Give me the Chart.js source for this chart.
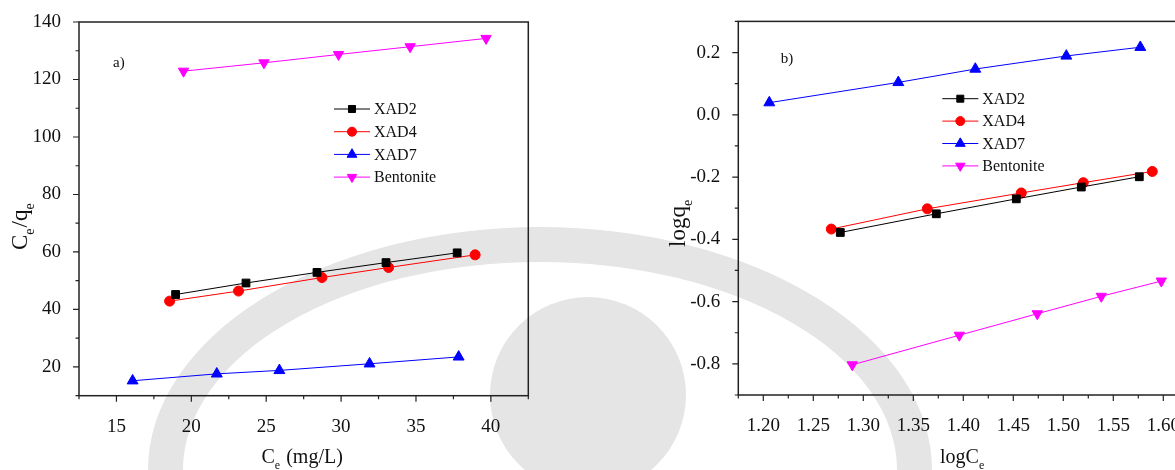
<!DOCTYPE html>
<html>
<head>
<meta charset="utf-8">
<title>Isotherm plots</title>
<script src="https://cdn.jsdelivr.net/npm/chart.js@4.4.1/dist/chart.umd.min.js"></script>
<style>
  html, body { margin: 0; padding: 0; background: #fff; overflow: hidden; }
  #wrap { position: relative; width: 1175px; height: 470px; overflow: hidden; }
  canvas { position: absolute; top: 0; }
  #bg { left: 0; }
  #chartA { left: 0; }
  #chartB { left: 640px; }
</style>
</head>
<body>
<div id="wrap">
  <canvas id="bg" width="1175" height="470"></canvas>
  <canvas id="chartA" width="560" height="470"></canvas>
  <canvas id="chartB" width="560" height="470"></canvas>
</div>
<script>
const seriesNames = ['XAD2', 'XAD4', 'XAD7', 'Bentonite'];

// a) Ce (mg/L) against Ce/qe
const ceXAD2 = [18.95, 23.65, 28.39, 33.0, 37.75];
const ceQeXAD2 = [45.2, 49.2, 52.9, 56.3, 59.7];
const ceXAD4 = [18.55, 23.15, 28.72, 33.17, 38.95];
const ceQeXAD4 = [42.9, 46.4, 51.1, 54.6, 59.0];
const ceXAD7 = [16.08, 21.7, 25.88, 31.9, 37.85];
const ceQeXAD7 = [15.2, 17.6, 18.8, 21.1, 23.5];
const ceBent = [19.48, 24.85, 29.83, 34.61, 39.68];
const ceQeBent = [122.9, 125.8, 128.7, 131.4, 134.3];

// b) logCe against logqe
const logCeXAD2 = [1.277, 1.373, 1.453, 1.518, 1.576];
const logQeXAD2 = [-0.378, -0.318, -0.270, -0.232, -0.199];
const logCeXAD4 = [1.268, 1.364, 1.458, 1.520, 1.589];
const logQeXAD4 = [-0.367, -0.302, -0.251, -0.218, -0.182];
const logCeXAD7 = [1.206, 1.335, 1.412, 1.503, 1.577];
const logQeXAD7 = [0.039, 0.104, 0.147, 0.189, 0.217];
const logCeBent = [1.289, 1.396, 1.474, 1.538, 1.598];
const logQeBent = [-0.803, -0.708, -0.639, -0.583, -0.534];

// tick labels
const ceTicks = [15, 20, 25, 30, 35, 40];
const ceQeTicks = [20, 40, 60, 80, 100, 120, 140];
const logCeTicks = [1.20, 1.25, 1.30, 1.35, 1.40, 1.45, 1.50, 1.55, 1.60];
const logQeTicks = [-0.8, -0.6, -0.4, -0.2, 0.0, 0.2];

const FONT = '"Liberation Serif", "Times New Roman", serif';
Chart.defaults.font.family = FONT;
Chart.defaults.color = '#111';

// faint round logo behind both panels
const bg = document.getElementById('bg').getContext('2d');
bg.fillStyle = '#e5e5e5';
bg.beginPath();
bg.ellipse(540, 470, 392, 243, 0, Math.PI, 2 * Math.PI);
bg.ellipse(540, 470, 357, 208, 0, 2 * Math.PI, Math.PI, true);
bg.closePath();
bg.fill();
bg.beginPath();
bg.arc(588, 395, 98, 0, 2 * Math.PI);
bg.fill();

const styles = [
  { color: '#000000', pointStyle: 'rect', rotation: 0, radius: 5.5 },
  { color: '#ff0000', pointStyle: 'circle', rotation: 0, radius: 5 },
  { color: '#0000ff', pointStyle: 'triangle', rotation: 0, radius: 6.3 },
  { color: '#ff00ff', pointStyle: 'triangle', rotation: 180, radius: 6 }
];

function makeSeries(i, xs, ys) {
  const s = styles[i];
  return {
    label: seriesNames[i],
    data: xs.map((v, k) => ({ x: v, y: ys[k] })),
    showLine: true,
    borderColor: s.color,
    backgroundColor: s.color,
    borderWidth: 1,
    pointStyle: s.pointStyle,
    pointRotation: s.rotation,
    pointRadius: s.radius,
    pointBorderWidth: 1,
    pointBorderColor: s.color,
    pointHoverRadius: s.radius
  };
}

// midpoints between major ticks, plus the two ends of the axis
function minorTicks(major, min, max) {
  const step = major[1] - major[0];
  const out = [];
  for (let v = major[0] - step / 2; v <= max + 1e-9; v += step) {
    if (v >= min - 1e-9) out.push(v);
  }
  return out;
}

function richText(ctx, parts, x, y, size) {
  let cx = x;
  parts.forEach(p => {
    const s = p.sub ? Math.round(size * 0.62) : size;
    ctx.font = s + 'px ' + FONT;
    ctx.fillText(p.t, cx, p.sub ? y + size * 0.32 : y);
    cx += ctx.measureText(p.t).width + (p.sub ? 1 : 0);
  });
}

const decorations = {
  id: 'decorations',
  beforeDatasetsDraw(chart, args, o) {
    const { ctx, chartArea: a, scales: { x, y } } = chart;
    ctx.save();
    ctx.strokeStyle = '#222';
    ctx.lineWidth = 1.5;
    ctx.strokeRect(a.left, a.top, a.right - a.left, a.bottom - a.top);
    ctx.lineWidth = 1.2;
    ctx.beginPath();
    o.xMajor.forEach(v => { const p = x.getPixelForValue(v); ctx.moveTo(p, a.bottom); ctx.lineTo(p, a.bottom + 6); });
    minorTicks(o.xMajor, x.min, x.max).forEach(v => { const p = x.getPixelForValue(v); ctx.moveTo(p, a.bottom); ctx.lineTo(p, a.bottom + 3.5); });
    o.yMajor.forEach(v => { const p = y.getPixelForValue(v); ctx.moveTo(a.left, p); ctx.lineTo(a.left - 6, p); });
    minorTicks(o.yMajor, y.min, y.max).forEach(v => { const p = y.getPixelForValue(v); ctx.moveTo(a.left, p); ctx.lineTo(a.left - 3.5, p); });
    ctx.stroke();
    ctx.restore();
  },
  afterDraw(chart, args, o) {
    const { ctx } = chart;
    ctx.save();
    ctx.fillStyle = '#111';
    ctx.textAlign = 'left';
    ctx.textBaseline = 'alphabetic';

    // x title
    richText(ctx, o.xTitle, o.xTitlePos[0], o.xTitlePos[1], 20);

    // y title, reading upwards
    ctx.save();
    ctx.translate(o.yTitlePos[0], o.yTitlePos[1]);
    ctx.rotate(-Math.PI / 2);
    richText(ctx, o.yTitle, 0, 0, 23);
    ctx.restore();

    // panel letter
    ctx.font = '15px ' + FONT;
    ctx.fillText(o.letter, o.letterPos[0], o.letterPos[1]);

    // legend
    const lg = o.legend;
    chart.data.datasets.forEach((ds, i) => {
      const ry = lg.y + i * lg.gap;
      ctx.strokeStyle = ds.borderColor;
      ctx.lineWidth = 1;
      ctx.beginPath();
      ctx.moveTo(lg.x, ry);
      ctx.lineTo(lg.x + 36, ry);
      ctx.stroke();
      ctx.fillStyle = ds.backgroundColor;
      Chart.helpers.drawPoint(ctx, {
        pointStyle: ds.pointStyle, rotation: ds.pointRotation,
        radius: ds.pointRadius * 0.9, borderWidth: 1
      }, lg.x + 18, ry);
      ctx.fillStyle = '#111';
      ctx.font = '16px ' + FONT;
      ctx.textBaseline = 'middle';
      ctx.fillText(ds.label, lg.x + 40, ry + 1);
      ctx.textBaseline = 'alphabetic';
    });
    ctx.restore();
  }
};

function makeChart(id, datasets, p) {
  const tickFont = { family: FONT, size: 19 };
  return new Chart(document.getElementById(id), {
    type: 'scatter',
    data: { datasets },
    plugins: [decorations],
    options: {
      responsive: false,
      animation: false,
      events: [],
      layout: { padding: p.padding },
      elements: { line: { tension: 0 } },
      plugins: {
        legend: { display: false },
        tooltip: { enabled: false },
        decorations: p.deco
      },
      scales: {
        x: {
          type: 'linear', min: p.xMin, max: p.xMax,
          grid: { display: false }, border: { display: false },
          afterBuildTicks: s => { s.ticks = p.xTicks.map(v => ({ value: v })); },
          afterFit: s => { s.height = p.xAxisH; },
          ticks: { font: tickFont, color: '#111', padding: 12, maxRotation: 0, autoSkip: false, callback: p.xFmt }
        },
        y: {
          type: 'linear', min: p.yMin, max: p.yMax,
          grid: { display: false }, border: { display: false },
          afterBuildTicks: s => { s.ticks = p.yTicks.map(v => ({ value: v })); },
          afterFit: s => { s.width = p.yAxisW; },
          ticks: { font: tickFont, color: '#111', padding: 10, autoSkip: false, callback: p.yFmt }
        }
      }
    }
  });
}

makeChart('chartA', [
  makeSeries(0, ceXAD2, ceQeXAD2),
  makeSeries(1, ceXAD4, ceQeXAD4),
  makeSeries(2, ceXAD7, ceQeXAD7),
  makeSeries(3, ceBent, ceQeBent)
], {
  padding: { left: 0, top: 22, right: 31.7, bottom: 0 },
  xMin: 12.5, xMax: 42.5, xTicks: ceTicks, xFmt: v => String(v), xAxisH: 74.3,
  yMin: 10, yMax: 140, yTicks: ceQeTicks, yFmt: v => String(v), yAxisW: 79,
  deco: {
    xMajor: ceTicks, yMajor: ceQeTicks,
    xTitle: [{ t: 'C' }, { t: 'e', sub: true }, { t: ' (mg/L)' }], xTitlePos: [261.5, 463],
    yTitle: [{ t: 'C' }, { t: 'e', sub: true }, { t: '/q' }, { t: 'e', sub: true }], yTitlePos: [27, 250],
    letter: 'a)', letterPos: [113, 66.5],
    legend: { x: 334, y: 109, gap: 22.7 }
  }
});

makeChart('chartB', [
  makeSeries(0, logCeXAD2, logQeXAD2),
  makeSeries(1, logCeXAD4, logQeXAD4),
  makeSeries(2, logCeXAD7, logQeXAD7),
  makeSeries(3, logCeBent, logQeBent)
], {
  padding: { left: 0, top: 17.3, right: 11.7, bottom: 0 },
  xMin: 1.175, xMax: 1.625, xTicks: logCeTicks, xFmt: v => v.toFixed(2), xAxisH: 75,
  yMin: -0.9, yMax: 0.3, yTicks: logQeTicks, yFmt: v => v.toFixed(1), yAxisW: 98.3,
  deco: {
    xMajor: logCeTicks, yMajor: logQeTicks,
    xTitle: [{ t: 'logC' }, { t: 'e', sub: true }], xTitlePos: [300, 463],
    yTitle: [{ t: 'logq' }, { t: 'e', sub: true }], yTitlePos: [45, 247],
    letter: 'b)', letterPos: [140.7, 63],
    legend: { x: 302.3, y: 98.7, gap: 22.4 }
  }
});
</script>
</body>
</html>
